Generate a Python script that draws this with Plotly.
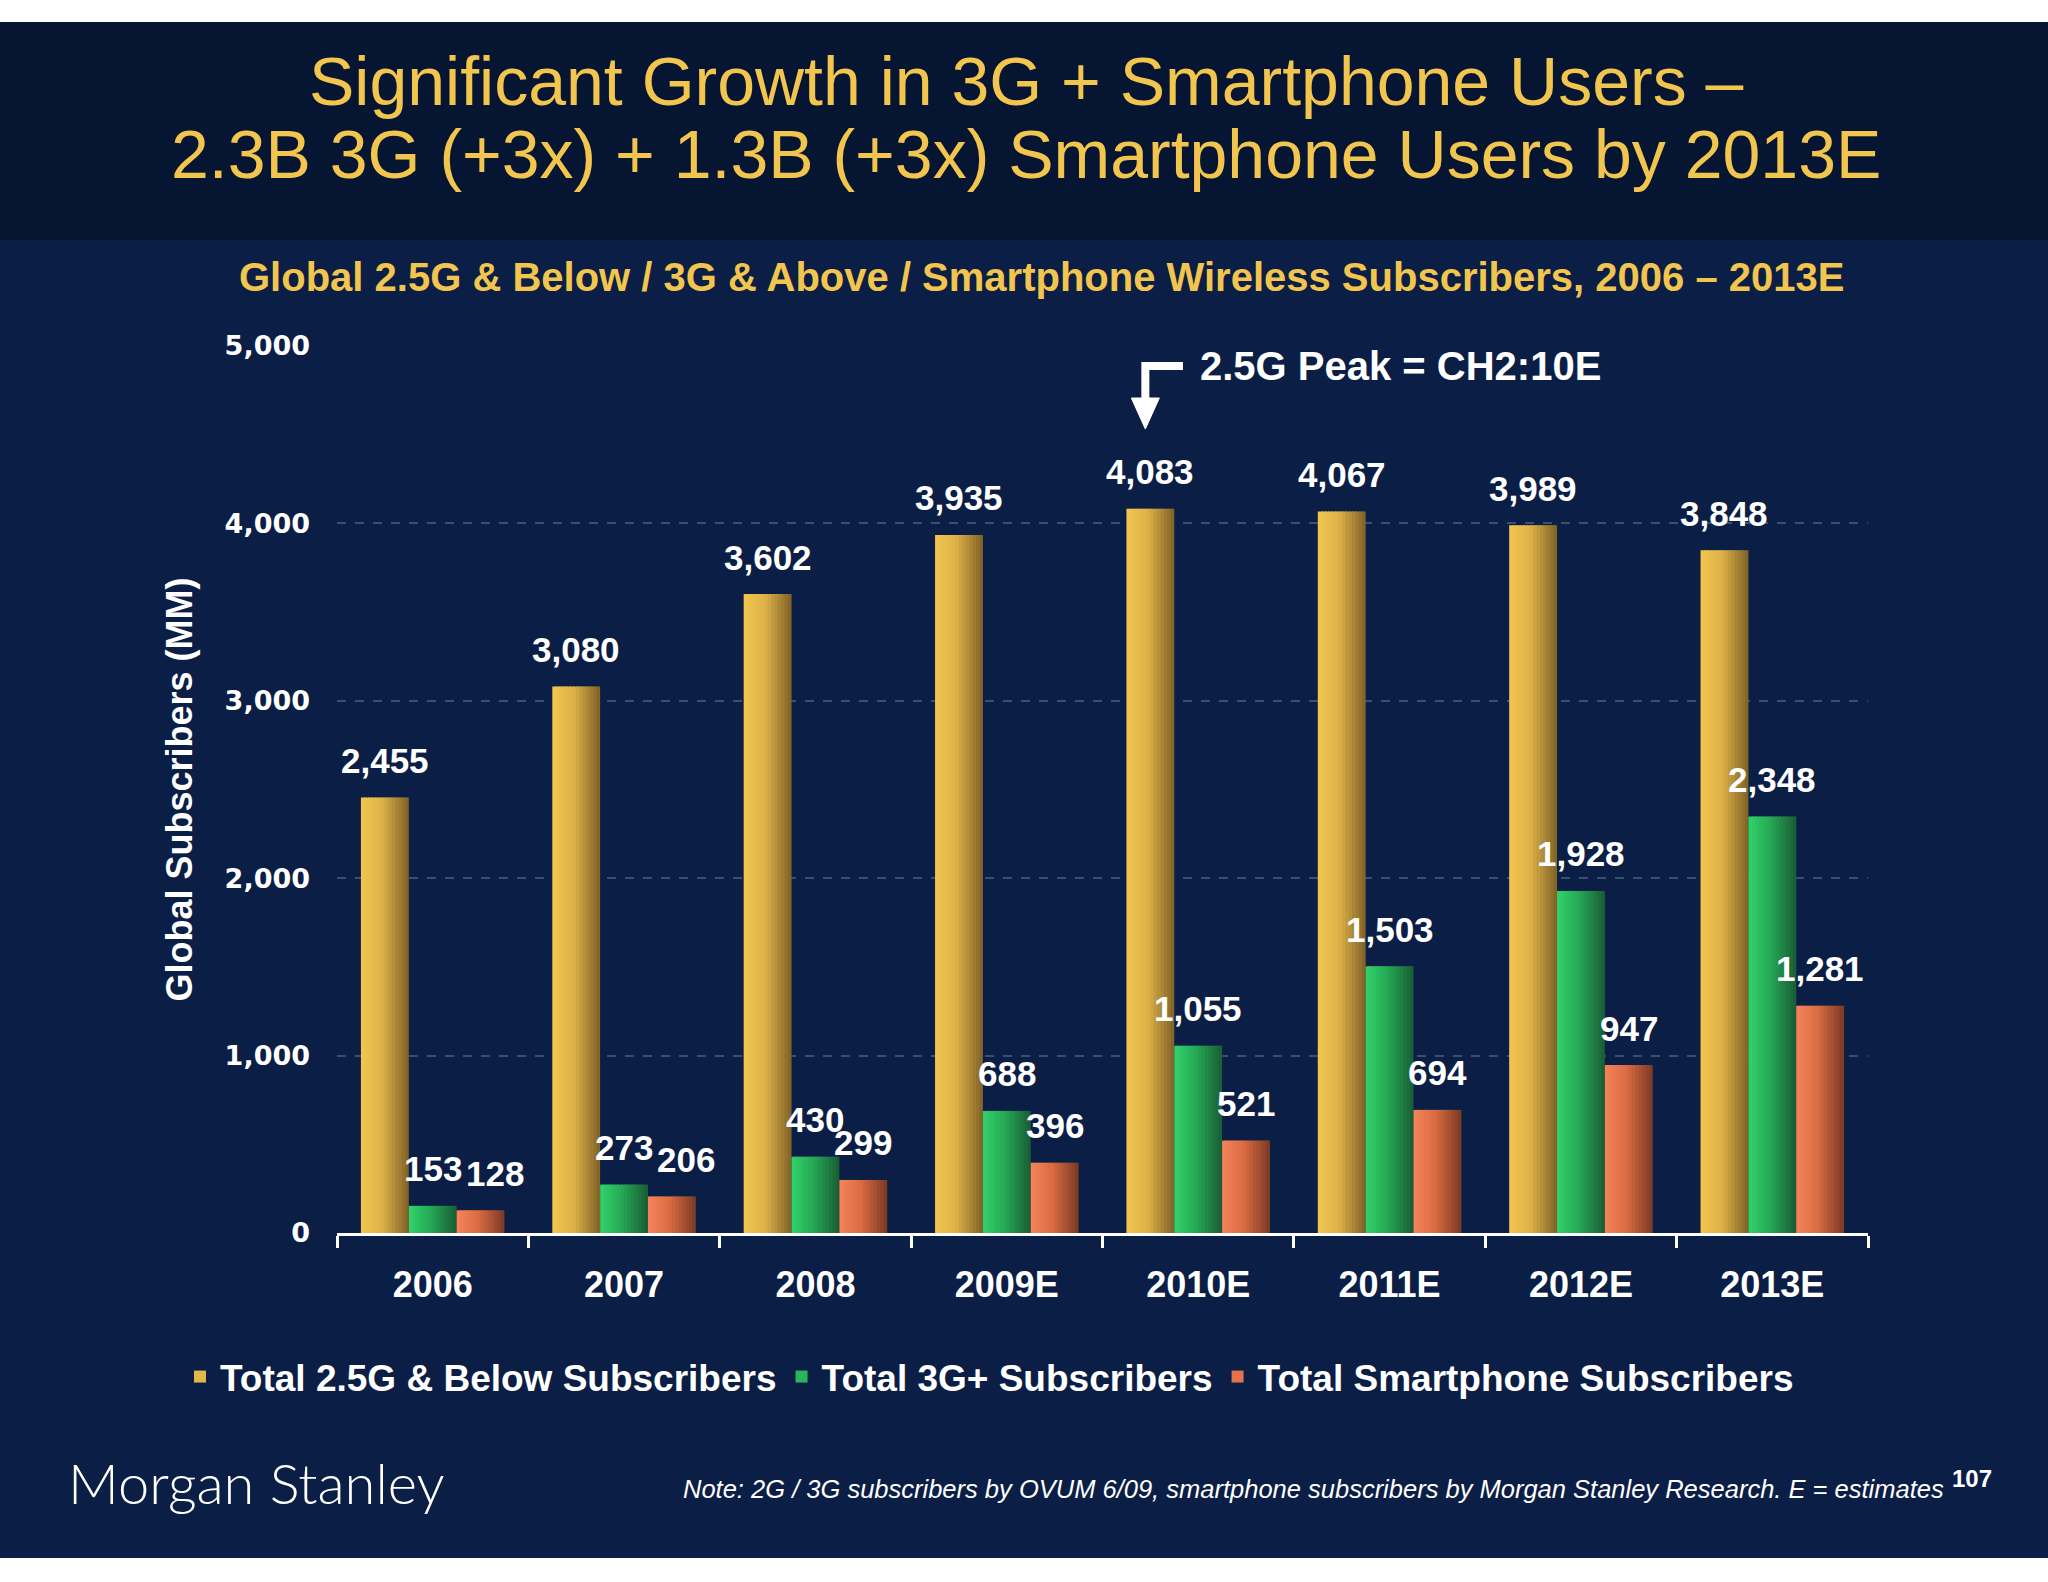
import plotly.graph_objects as go

# ---------------- data ----------------
categories = ["2006", "2007", "2008", "2009E", "2010E", "2011E", "2012E", "2013E"]
subs_25g = [2455, 3080, 3602, 3935, 4083, 4067, 3989, 3848]
subs_3g = [153, 273, 430, 688, 1055, 1503, 1928, 2348]
subs_smart = [128, 206, 299, 396, 521, 694, 947, 1281]
series_names = ["Total 2.5G & Below Subscribers", "Total 3G+ Subscribers", "Total Smartphone Subscribers"]
y_ticks = [0, 1000, 2000, 3000, 4000, 5000]
title_lines = ["Significant Growth in 3G + Smartphone Users –",
               "2.3B 3G (+3x) + 1.3B (+3x) Smartphone Users by 2013E"]
subtitle = "Global 2.5G & Below / 3G & Above / Smartphone Wireless Subscribers, 2006 – 2013E"
peak_text = "2.5G Peak = CH2:10E"
note_text = "Note: 2G / 3G subscribers by OVUM 6/09, smartphone subscribers by Morgan Stanley Research. E = estimates"
page_no = "107"

# ---------------- style ----------------
W, H = 2048, 1582
L, R, T, B = 337, 1868, 346, 1233          # plot area in pixels
Y_MAX = 5000
BODY = "#0B1E45"
BAND = "#061531"
GOLD_TXT = "#F2C54E"
FONT = "Liberation Sans, Arial"
gradients = [
    [(0.0, "#F3C651"), (0.45, "#DDB147"), (1.0, "#7F6127")],
    [(0.0, "#33D26B"), (0.45, "#25A955"), (1.0, "#1A5C35")],
    [(0.0, "#F5845A"), (0.45, "#DA6C43"), (1.0, "#7A3A24")],
]


def hex2rgb(h):
    h = h.lstrip("#")
    return tuple(int(h[i:i + 2], 16) for i in (0, 2, 4))


def interp(stops, t):
    for (t0, c0), (t1, c1) in zip(stops, stops[1:]):
        if t0 <= t <= t1:
            f = (t - t0) / (t1 - t0)
            a, b = hex2rgb(c0), hex2rgb(c1)
            return "rgb(%d,%d,%d)" % tuple(round(a[i] + (b[i] - a[i]) * f) for i in range(3))
    return stops[-1][1]


def px_x(p):
    return (p - L) / (R - L)


def px_y(p):
    return (B - p) / (B - T)


fig = go.Figure()

all_series = [subs_25g, subs_3g, subs_smart]
ncat = len(categories)
bargap = 0.25
bw = (1 - bargap) / 3
N = 14
sw = bw / N
for k, vals in enumerate(all_series):
    base = -(1 - bargap) / 2 + k * bw
    for j in range(N):
        t = (j + 0.5) / N
        width = sw * 1.5 if j < N - 1 else sw
        fig.add_trace(go.Bar(
            x=categories, y=vals,
            offset=base + j * sw, width=width,
            marker=dict(color=interp(gradients[k], t), line=dict(width=0)),
            name=series_names[k],
            showlegend=(j == N // 3),
            hoverinfo="skip",
            legendgroup=series_names[k],
        ))

# data labels
px_per_unit = (B - T) / Y_MAX
annotations = []
for k, vals in enumerate(all_series):
    off = -(1 - bargap) / 2 + k * bw + bw / 2
    for i, v in enumerate(vals):
        xshift = 0
        if k == 2 and abs(all_series[1][i] - v) * px_per_unit < 20:
            xshift = 14   # avoid colliding with neighbouring label
        annotations.append(dict(
            x=i + off, y=v, xref="x", yref="y",
            text=f"<b>{v:,}</b>", showarrow=False,
            yanchor="middle", yshift=37, xshift=xshift,
            font=dict(family=FONT, size=35, color="white"),
        ))

# titles
for line, ypx in zip(title_lines, [81, 154]):
    annotations.append(dict(
        x=px_x(1026), y=px_y(ypx), xref="paper", yref="paper",
        text=line, showarrow=False, xanchor="center", yanchor="middle",
        font=dict(family=FONT, size=68, color=GOLD_TXT),
    ))
annotations.append(dict(
    x=px_x(1041), y=px_y(277), xref="paper", yref="paper",
    text=f"<b>{subtitle}</b>",
    showarrow=False, xanchor="center", yanchor="middle",
    font=dict(family=FONT, size=40, color=GOLD_TXT),
))

# peak annotation
peak_idx = subs_25g.index(max(subs_25g))
annotations.append(dict(
    x=peak_idx, y=px_y(366), xref="x", yref="paper",
    text=f"<b>{peak_text}</b>", showarrow=False,
    xanchor="left", yanchor="middle", xshift=0,
    font=dict(family=FONT, size=40, color="white"),
))

# footer
annotations.append(dict(
    x=px_x(66), y=px_y(1482), xref="paper", yref="paper",
    text="Morgan Stanley", showarrow=False, xanchor="left", yanchor="middle",
    font=dict(family="Lato, Liberation Sans", size=56, color="white", weight=300),
))
annotations.append(dict(
    x=px_x(1946), y=px_y(1489), xref="paper", yref="paper",
    text=f"<i>{note_text}</i>",
    showarrow=False, xanchor="right", yanchor="middle",
    font=dict(family=FONT, size=25.5, color="white"),
))
annotations.append(dict(
    x=px_x(1950), y=px_y(1478), xref="paper", yref="paper",
    text=f"<b>{page_no}</b>", showarrow=False, xanchor="left", yanchor="middle",
    font=dict(family=FONT, size=24, color="white"),
))

# background shapes
shapes = [
    dict(type="rect", xref="paper", yref="paper", x0=px_x(-10), x1=px_x(W + 10), y0=px_y(-10), y1=px_y(22),
         fillcolor="white", line=dict(width=0), layer="below"),
    dict(type="rect", xref="paper", yref="paper", x0=px_x(-10), x1=px_x(W + 10), y0=px_y(22), y1=px_y(240),
         fillcolor=BAND, line=dict(width=0), layer="below"),
    dict(type="rect", xref="paper", yref="paper", x0=px_x(-10), x1=px_x(W + 10), y0=px_y(1558), y1=px_y(H + 10),
         fillcolor="white", line=dict(width=0), layer="below"),
]

# elbow arrow pointing to the peak gold bar
ax_x = (peak_idx - (1 - bargap) / 2 + bw / 2 + 0.5) / ncat - 5 / (R - L)
y_h = px_y(366)
y_tip = px_y(429)
y_base = px_y(398)
half_w = 14 / (R - L)
shapes.append(dict(type="path", xref="paper", yref="paper",
                   path=f"M {px_x(1183)},{y_h} L {ax_x},{y_h} L {ax_x},{y_base - 0.004}",
                   line=dict(color="white", width=8)))
shapes.append(dict(type="path", xref="paper", yref="paper",
                   path=f"M {ax_x - half_w},{y_base} L {ax_x + half_w},{y_base} L {ax_x},{y_tip} Z",
                   fillcolor="white", line=dict(color="white", width=1)))

fig.update_layout(
    width=W, height=H,
    margin=dict(l=L, r=W - R, t=T, b=H - B, autoexpand=False),
    paper_bgcolor=BODY, plot_bgcolor=BODY,
    barmode="overlay", bargap=bargap,
    xaxis=dict(
        type="category", categoryorder="array", categoryarray=categories,
        showline=True, linecolor="white", linewidth=3,
        ticks="outside", tickson="boundaries", ticklen=12, tickwidth=3, tickcolor="white",
        tickfont=dict(family=FONT, size=36, color="white", weight="bold"),
        ticklabelstandoff=18, showgrid=False, range=[-0.5, ncat - 0.5],
    ),
    yaxis=dict(
        range=[0, Y_MAX], tickvals=y_ticks, tickformat=",",
        showgrid=True, gridcolor="#3B5070", gridwidth=1.5, griddash="dash",
        zeroline=False, showline=False, ticks="",
        tickfont=dict(family="DejaVu Sans, Verdana", size=27, color="white", weight="bold"),
        ticklabelstandoff=26,
        title=dict(text="<b>Global Subscribers (MM)</b>", standoff=20,
                   font=dict(family=FONT, size=36, color="white")),
    ),
    legend=dict(
        orientation="h", xref="paper", x=px_x(180), xanchor="left",
        yref="paper", y=px_y(1377), yanchor="middle",
        font=dict(family=FONT, size=37, color="white", weight="bold"),
        bgcolor="rgba(0,0,0,0)", itemsizing="constant", traceorder="normal",
    ),
    annotations=annotations,
    shapes=shapes,
    showlegend=True,
)

fig.write_html("out.html", config={"displayModeBar": False},
               post_script="document.body.style.margin='0';document.body.style.overflow='hidden';")
